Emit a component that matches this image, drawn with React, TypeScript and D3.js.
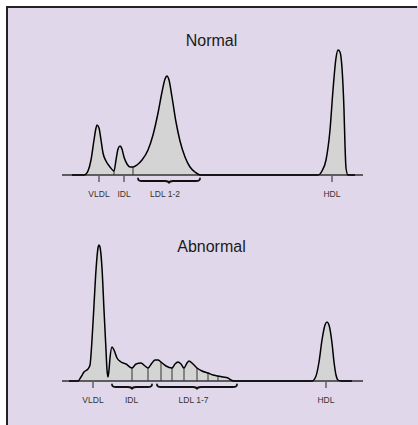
import React from "react";
import * as d3 from "d3";

type Pt = [number, number];

// x: migration distance (arbitrary units), y: absorbance (arbitrary units)
const normalProfile: Pt[] = [
  [10, 0], [22, 0], [24, 1], [26, 4], [29, 15], [32, 35], [34, 47], [35, 50],
  [37, 47], [39, 35], [41, 22], [44, 14], [48, 8], [52, 4], [54, 15], [56, 26],
  [58, 29], [60, 26], [62, 18], [65, 11], [68, 8], [71, 8], [75, 10], [80, 15],
  [86, 25], [91, 40], [96, 62], [100, 83], [103, 96], [105, 99], [107, 95],
  [110, 78], [114, 53], [118, 34], [123, 18], [128, 8], [133, 3], [138, 0],
  [256, 0], [260, 4], [264, 15], [268, 45], [271, 85], [274, 117], [276, 125],
  [278, 123], [280, 107], [282, 65], [283, 30], [284, 7], [286, 0], [293, 0],
];
const normalSeparators = [52, 71];
const normalTickLabels = ["VLDL", "IDL", "HDL"];
const normalTickAt = [37, 62, 270];
const normalBraceLabels = ["LDL 1-2"];
const normalBraceFrom = [76];
const normalBraceTo = [138];
const normalBraceLabelAt = [103];

const abnormalProfile: Pt[] = [
  [7, 0], [16, 0], [19, 4], [22, 9], [26, 12], [28, 16], [30, 41], [32, 76],
  [34, 111], [36, 133], [37, 136], [38, 134], [40, 113], [42, 71], [44, 31],
  [45, 11], [46, 4], [47, 11], [48, 23], [50, 34], [52, 31], [55, 23], [59, 19],
  [64, 17], [70, 13], [74, 17], [79, 18], [83, 15], [86, 13], [90, 18], [93, 21],
  [96, 21], [99, 19], [104, 15], [110, 13], [113, 17], [116, 19], [119, 17],
  [122, 13], [125, 18], [127, 20], [130, 18], [135, 13], [140, 10], [146, 8],
  [151, 6], [156, 5], [161, 4], [166, 3], [169, 1], [172, 0],
  [250, 0], [254, 5], [257, 19], [260, 41], [263, 56], [265, 59], [267, 56],
  [270, 38], [272, 19], [274, 6], [276, 1], [279, 0], [290, 0],
];
const abnormalSeparators = [70, 86, 99, 110, 122, 135, 146, 156];
const abnormalTickLabels = ["VLDL", "HDL"];
const abnormalTickAt = [31, 264];
const abnormalBraceLabels = ["IDL", "LDL 1-7"];
const abnormalBraceFrom = [50, 95];
const abnormalBraceTo = [90, 175];
const abnormalBraceLabelAt = [69.5, 131.5];

const W = 418;
const H = 425;
const FONT = "'Liberation Sans', Arial, Helvetica, sans-serif";

const x = d3.scaleLinear().domain([0, 301]).range([62, 363]);

function valueAt(profile: Pt[], px: number) {
  const i = d3.bisector((d: Pt) => d[0]).left(profile, px);
  if (i <= 0) return profile[0][1];
  if (i >= profile.length) return profile[profile.length - 1][1];
  const a = profile[i - 1];
  const b = profile[i];
  if (b[0] === px) return b[1];
  return a[1] + ((b[1] - a[1]) * (px - a[0])) / (b[0] - a[0]);
}

function bracePath(x1: number, x2: number, y: number) {
  const m = (x1 + x2) / 2;
  return (
    `M${x1},${y - 2.5} Q${x1},${y} ${x1 + 4},${y} L${m - 4},${y} ` +
    `Q${m},${y} ${m},${y + 2.5} Q${m},${y} ${m + 4},${y} L${x2 - 4},${y} ` +
    `Q${x2},${y} ${x2},${y - 2.5}`
  );
}

interface PanelProps {
  title: string;
  titleY: number;
  baseline: number;
  profile: Pt[];
  separators: number[];
  tickLabels: string[];
  tickAt: number[];
  braceLabels: string[];
  braceFrom: number[];
  braceTo: number[];
  braceLabelAt: number[];
}

function Panel(p: PanelProps) {
  const y = d3.scaleLinear().domain([0, 140]).range([p.baseline, p.baseline - 140]);
  const area = d3
    .area<Pt>()
    .x((d) => x(d[0]))
    .y0(y(0))
    .y1((d) => y(d[1]))
    .curve(d3.curveMonotoneX);
  const line = d3
    .line<Pt>()
    .x((d) => x(d[0]))
    .y((d) => y(d[1]))
    .curve(d3.curveMonotoneX);

  return (
    <g>
      <text
        x={211.5}
        y={p.titleY}
        textAnchor="middle"
        fontFamily={FONT}
        fontSize={16}
        fill="#1a1a1a"
      >
        {p.title}
      </text>
      <path d={area(p.profile) || ""} fill="#d4d4d4" />
      {p.separators.map((s) => (
        <line
          key={s}
          x1={x(s)}
          x2={x(s)}
          y1={y(0)}
          y2={y(valueAt(p.profile, s))}
          stroke="#333"
          strokeWidth={1}
        />
      ))}
      <line x1={x(0)} x2={x(301)} y1={y(0)} y2={y(0)} stroke="#333" strokeWidth={1.3} />
      <path d={line(p.profile) || ""} fill="none" stroke="#000" strokeWidth={1.5} strokeLinejoin="round" />
      {p.tickAt.map((t, i) => (
        <g key={p.tickLabels[i]}>
          <line x1={x(t)} x2={x(t)} y1={y(0) + 1} y2={y(0) + 7} stroke="#222" strokeWidth={1} />
          <text
            x={x(t)}
            y={p.baseline + 22}
            textAnchor="middle"
            fontFamily={FONT}
            fontSize={8.5}
            fill="#333"
          >
            {p.tickLabels[i]}
          </text>
        </g>
      ))}
      {p.braceFrom.map((b, i) => (
        <g key={p.braceLabels[i]}>
          <path
            d={bracePath(x(b), x(p.braceTo[i]), p.baseline + 6)}
            fill="none"
            stroke="#111"
            strokeWidth={1.8}
            strokeLinecap="round"
          />
          <text
            x={x(p.braceLabelAt[i])}
            y={p.baseline + 22}
            textAnchor="middle"
            fontFamily={FONT}
            fontSize={8.5}
            fill="#333"
          >
            {p.braceLabels[i]}
          </text>
        </g>
      ))}
    </g>
  );
}

export default function App() {
  return (
    <svg
      width={W}
      height={H}
      style={{ position: "absolute", left: 0, top: 0, background: "#fff" }}
    >
      <rect x={6} y={6} width={W - 6} height={H - 6} fill="#e0d8ea" />
      <line x1={6} x2={417} y1={7} y2={7} stroke="#222" strokeWidth={2} />
      <line x1={7} x2={7} y1={6} y2={H} stroke="#222" strokeWidth={2} />
      <Panel
        title="Normal"
        titleY={46}
        baseline={175}
        profile={normalProfile}
        separators={normalSeparators}
        tickLabels={normalTickLabels}
        tickAt={normalTickAt}
        braceLabels={normalBraceLabels}
        braceFrom={normalBraceFrom}
        braceTo={normalBraceTo}
        braceLabelAt={normalBraceLabelAt}
      />
      <Panel
        title="Abnormal"
        titleY={252}
        baseline={381}
        profile={abnormalProfile}
        separators={abnormalSeparators}
        tickLabels={abnormalTickLabels}
        tickAt={abnormalTickAt}
        braceLabels={abnormalBraceLabels}
        braceFrom={abnormalBraceFrom}
        braceTo={abnormalBraceTo}
        braceLabelAt={abnormalBraceLabelAt}
      />
    </svg>
  );
}
